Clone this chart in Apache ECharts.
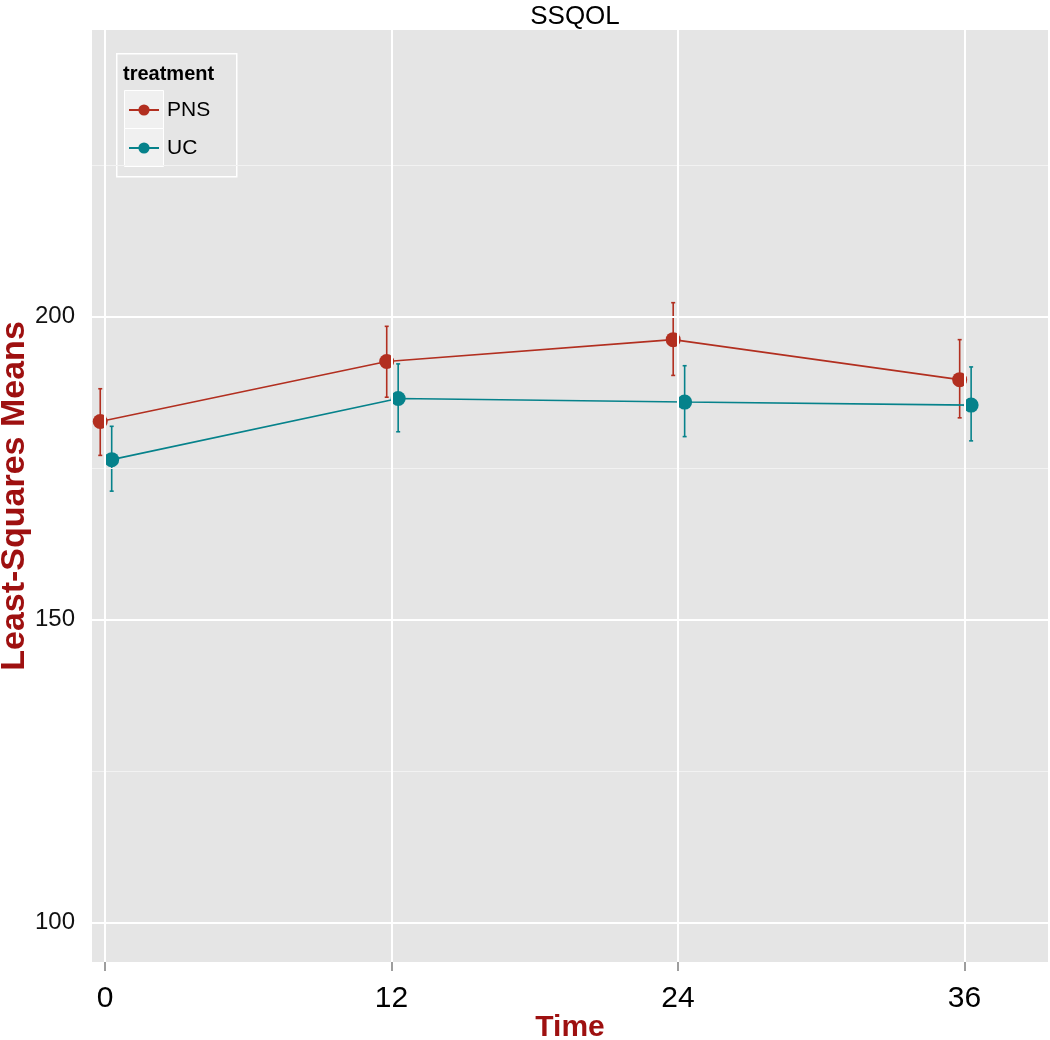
<!DOCTYPE html>
<html>
<head>
<meta charset="utf-8">
<script src="https://cdn.jsdelivr.net/npm/echarts@6/dist/echarts.min.js"></script>
<style>html,body{margin:0;padding:0;background:#fff}#c{width:1050px;height:1040px}</style>
</head>
<body>
<div id="c"></div>
<script>
// ---- data ----
var times = [0, 12, 24, 36];
var pnsMean  = [182.7, 192.6, 196.2, 189.6];
var pnsLower = [177.1, 186.7, 190.3, 183.3];
var pnsUpper = [188.1, 198.4, 202.3, 196.2];
var ucMean   = [176.4, 186.5, 185.9, 185.4];
var ucLower  = [171.2, 181.0, 180.2, 179.5];
var ucUpper  = [181.9, 192.2, 191.9, 191.7];
var xTicks = [0, 12, 24, 36];
var yTicks = [100, 150, 200];
var yMinor = [125, 175, 225];
var groups = ['PNS', 'UC'];

// ---- styling / layout ----
var dodge = {PNS: -0.2, UC: 0.28};
var colors = {PNS: '#B22F20', UC: '#06828B'};
var titleRed = '#9E1010';
var font = 'Liberation Sans, Arial, sans-serif';

function pts(mean, g) { return times.map(function (t, i) { return [t + dodge[g], mean[i]]; }); }
function bars(lo, hi, g) { return times.map(function (t, i) { return [t + dodge[g], lo[i], hi[i]]; }); }

function errRender(color) {
  return function (params, api) {
    var x = api.value(0);
    var top = api.coord([x, api.value(2)]);
    var bot = api.coord([x, api.value(1)]);
    var st = {stroke: color, lineWidth: 1.6};
    return {type: 'group', children: [
      {type: 'line', shape: {x1: top[0], y1: top[1], x2: bot[0], y2: bot[1]}, style: st},
      {type: 'line', shape: {x1: top[0] - 2, y1: top[1], x2: top[0] + 2, y2: top[1]}, style: st},
      {type: 'line', shape: {x1: bot[0] - 2, y1: bot[1], x2: bot[0] + 2, y2: bot[1]}, style: st}
    ]};
  };
}

var gridLines = [];
yMinor.forEach(function (v) { gridLines.push({yAxis: v, lineStyle: {color: '#F2F2F2', width: 1, type: 'solid'}}); });
yTicks.forEach(function (v) { gridLines.push({yAxis: v, lineStyle: {color: '#FFFFFF', width: 2, type: 'solid'}}); });
xTicks.forEach(function (v) { gridLines.push({xAxis: v, lineStyle: {color: '#FFFFFF', width: 2, type: 'solid'}}); });

var chart = echarts.init(document.getElementById('c'));
chart.setOption({
  animation: false,
  backgroundColor: '#FFFFFF',
  textStyle: {fontFamily: font},
  title: {
    text: 'SSQOL', left: 570, top: -1, textAlign: 'center',
    textStyle: {fontSize: 26, fontWeight: 'normal', color: '#000', fontFamily: font}
  },
  grid: {left: 92, right: 2, top: 30, bottom: 78, show: true, backgroundColor: '#E5E5E5', borderWidth: 0,
         containLabel: false, outerBoundsMode: 'none'},
  xAxis: {
    type: 'value', min: -0.545, max: 39.5,
    name: 'Time', nameLocation: 'middle', nameGap: 51, nameMoveOverlap: false,
    nameTextStyle: {fontSize: 30, fontWeight: 'bold', color: titleRed, fontFamily: font},
    axisLine: {show: false},
    axisTick: {show: true, customValues: xTicks, length: 9, lineStyle: {color: '#7F7F7F', width: 1.5}},
    axisLabel: {customValues: xTicks, fontSize: 30, color: '#000', margin: 22, fontFamily: font},
    splitLine: {show: false}
  },
  yAxis: {
    type: 'value', min: 93.5, max: 247.3,
    name: 'Least-Squares Means', nameLocation: 'middle', nameGap: 60, nameMoveOverlap: false,
    nameTextStyle: {fontSize: 34, fontWeight: 'bold', color: titleRed, fontFamily: font},
    axisLine: {show: false},
    axisTick: {show: true, customValues: yTicks, length: 9, lineStyle: {color: '#7F7F7F', width: 1.5}},
    axisLabel: {customValues: yTicks, fontSize: 24, color: '#111', margin: 17, fontFamily: font},
    splitLine: {show: false}
  },
  legend: [
    {data: ['PNS'], left: 128, top: 99, padding: 0, itemWidth: 30, itemHeight: 14,
     textStyle: {fontSize: 21, color: '#000', lineHeight: 22, fontFamily: font, padding: [0, 0, 0, 3]}},
    {data: ['UC'], left: 128, top: 137, padding: 0, itemWidth: 30, itemHeight: 14,
     textStyle: {fontSize: 21, color: '#000', lineHeight: 22, fontFamily: font, padding: [0, 0, 0, 3]}}
  ],
  graphic: [
    {type: 'rect', left: 116, top: 53, z: 0, shape: {width: 120, height: 123},
     style: {fill: 'transparent', stroke: '#FFFFFF', lineWidth: 1.5}},
    {type: 'rect', left: 124, top: 90, z: 0, shape: {width: 39, height: 38},
     style: {fill: 'rgba(255,255,255,0.42)', stroke: '#FFFFFF', lineWidth: 1}},
    {type: 'rect', left: 124, top: 128, z: 0, shape: {width: 39, height: 38},
     style: {fill: 'rgba(255,255,255,0.42)', stroke: '#FFFFFF', lineWidth: 1}},
    {type: 'text', left: 123, top: 64, z: 5,
     style: {text: 'treatment', fontSize: 20, fontWeight: 'bold', fill: '#000', fontFamily: font}}
  ],
  series: [
    {type: 'line', name: 'grid', data: [], z: 1, silent: true,
     markLine: {silent: true, symbol: ['none', 'none'], label: {show: false}, data: gridLines}},
    {type: 'custom', name: 'PNS err', data: bars(pnsLower, pnsUpper, 'PNS'), renderItem: errRender(colors.PNS), z: 3, silent: true},
    {type: 'custom', name: 'UC err', data: bars(ucLower, ucUpper, 'UC'), renderItem: errRender(colors.UC), z: 3, silent: true},
    {type: 'line', name: 'PNS', data: pts(pnsMean, 'PNS'), z: 4, symbol: 'circle', symbolSize: 15,
     itemStyle: {color: colors.PNS}, lineStyle: {color: colors.PNS, width: 1.6}},
    {type: 'line', name: 'UC', data: pts(ucMean, 'UC'), z: 4, symbol: 'circle', symbolSize: 15,
     itemStyle: {color: colors.UC}, lineStyle: {color: colors.UC, width: 1.6}}
  ]
});
</script>
</body>
</html>
